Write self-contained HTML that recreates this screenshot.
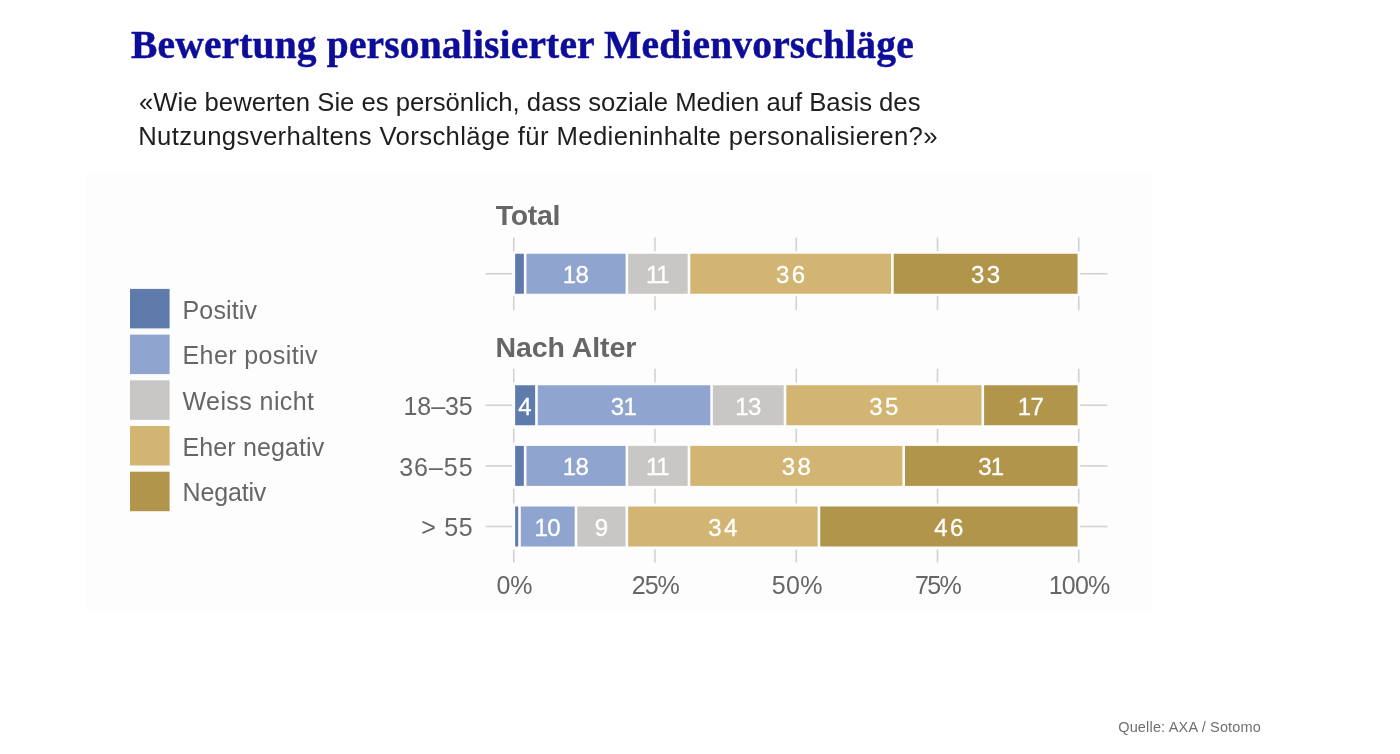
<!DOCTYPE html>
<html lang="de"><head><meta charset="utf-8"><title>Bewertung personalisierter Medienvorschläge</title>
<style>
html,body{margin:0;padding:0;background:#fff;}
body{width:1400px;height:754px;position:relative;overflow:hidden;font-family:"Liberation Sans",sans-serif;}
svg{position:absolute;left:0;top:0;will-change:transform;}
svg text{font-family:"Liberation Sans",sans-serif;}
</style></head><body>
<svg width="1400" height="754" viewBox="0 0 1400 754">
<rect x="86" y="173" width="1067" height="438" fill="#fdfdfd"/>
<line x1="513.75" x2="513.75" y1="237.5" y2="251.25" stroke="#d2d2d2" stroke-width="1.6"/>
<line x1="513.75" x2="513.75" y1="296.25" y2="310" stroke="#d2d2d2" stroke-width="1.6"/>
<line x1="513.75" x2="513.75" y1="368.75" y2="382.5" stroke="#d2d2d2" stroke-width="1.6"/>
<line x1="513.75" x2="513.75" y1="428.75" y2="442.5" stroke="#d2d2d2" stroke-width="1.6"/>
<line x1="513.75" x2="513.75" y1="488.75" y2="503.5" stroke="#d2d2d2" stroke-width="1.6"/>
<line x1="513.75" x2="513.75" y1="549.5" y2="562.5" stroke="#d2d2d2" stroke-width="1.6"/>
<line x1="655.00" x2="655.00" y1="237.5" y2="251.25" stroke="#d2d2d2" stroke-width="1.6"/>
<line x1="655.00" x2="655.00" y1="296.25" y2="310" stroke="#d2d2d2" stroke-width="1.6"/>
<line x1="655.00" x2="655.00" y1="368.75" y2="382.5" stroke="#d2d2d2" stroke-width="1.6"/>
<line x1="655.00" x2="655.00" y1="428.75" y2="442.5" stroke="#d2d2d2" stroke-width="1.6"/>
<line x1="655.00" x2="655.00" y1="488.75" y2="503.5" stroke="#d2d2d2" stroke-width="1.6"/>
<line x1="655.00" x2="655.00" y1="549.5" y2="562.5" stroke="#d2d2d2" stroke-width="1.6"/>
<line x1="796.25" x2="796.25" y1="237.5" y2="251.25" stroke="#d2d2d2" stroke-width="1.6"/>
<line x1="796.25" x2="796.25" y1="296.25" y2="310" stroke="#d2d2d2" stroke-width="1.6"/>
<line x1="796.25" x2="796.25" y1="368.75" y2="382.5" stroke="#d2d2d2" stroke-width="1.6"/>
<line x1="796.25" x2="796.25" y1="428.75" y2="442.5" stroke="#d2d2d2" stroke-width="1.6"/>
<line x1="796.25" x2="796.25" y1="488.75" y2="503.5" stroke="#d2d2d2" stroke-width="1.6"/>
<line x1="796.25" x2="796.25" y1="549.5" y2="562.5" stroke="#d2d2d2" stroke-width="1.6"/>
<line x1="937.50" x2="937.50" y1="237.5" y2="251.25" stroke="#d2d2d2" stroke-width="1.6"/>
<line x1="937.50" x2="937.50" y1="296.25" y2="310" stroke="#d2d2d2" stroke-width="1.6"/>
<line x1="937.50" x2="937.50" y1="368.75" y2="382.5" stroke="#d2d2d2" stroke-width="1.6"/>
<line x1="937.50" x2="937.50" y1="428.75" y2="442.5" stroke="#d2d2d2" stroke-width="1.6"/>
<line x1="937.50" x2="937.50" y1="488.75" y2="503.5" stroke="#d2d2d2" stroke-width="1.6"/>
<line x1="937.50" x2="937.50" y1="549.5" y2="562.5" stroke="#d2d2d2" stroke-width="1.6"/>
<line x1="1078.75" x2="1078.75" y1="237.5" y2="251.25" stroke="#d2d2d2" stroke-width="1.6"/>
<line x1="1078.75" x2="1078.75" y1="296.25" y2="310" stroke="#d2d2d2" stroke-width="1.6"/>
<line x1="1078.75" x2="1078.75" y1="368.75" y2="382.5" stroke="#d2d2d2" stroke-width="1.6"/>
<line x1="1078.75" x2="1078.75" y1="428.75" y2="442.5" stroke="#d2d2d2" stroke-width="1.6"/>
<line x1="1078.75" x2="1078.75" y1="488.75" y2="503.5" stroke="#d2d2d2" stroke-width="1.6"/>
<line x1="1078.75" x2="1078.75" y1="549.5" y2="562.5" stroke="#d2d2d2" stroke-width="1.6"/>
<line x1="485.6" x2="512.2" y1="273.75" y2="273.75" stroke="#d2d2d2" stroke-width="1.6"/>
<line x1="1080.2" x2="1107.3" y1="273.75" y2="273.75" stroke="#d2d2d2" stroke-width="1.6"/>
<rect x="515.15" y="253.75" width="8.70" height="40" fill="#5f7bab"/>
<rect x="526.45" y="253.75" width="99.10" height="40" fill="#8fa4cf"/>
<text x="575.60" y="283.05" text-anchor="middle" fill="#fff" stroke="#fff" stroke-width="0.3" font-size="24" letter-spacing="-0.6">18</text>
<rect x="628.15" y="253.75" width="59.55" height="40" fill="#c9c7c5"/>
<text x="657.23" y="283.05" text-anchor="middle" fill="#fff" stroke="#fff" stroke-width="0.3" font-size="24" letter-spacing="-1.2">11</text>
<rect x="690.30" y="253.75" width="200.80" height="40" fill="#d2b572"/>
<text x="791.80" y="283.05" text-anchor="middle" fill="#fff" stroke="#fff" stroke-width="0.3" font-size="24" letter-spacing="2.4">36</text>
<rect x="893.70" y="253.75" width="183.85" height="40" fill="#b1954b"/>
<text x="986.73" y="283.05" text-anchor="middle" fill="#fff" stroke="#fff" stroke-width="0.3" font-size="24" letter-spacing="2.4">33</text>
<line x1="485.6" x2="512.2" y1="405.25" y2="405.25" stroke="#d2d2d2" stroke-width="1.6"/>
<line x1="1080.2" x2="1107.3" y1="405.25" y2="405.25" stroke="#d2d2d2" stroke-width="1.6"/>
<rect x="515.15" y="385.25" width="20.00" height="40" fill="#5f7bab"/>
<text x="525.05" y="414.55" text-anchor="middle" fill="#fff" stroke="#fff" stroke-width="0.3" font-size="24" letter-spacing="0">4</text>
<rect x="537.75" y="385.25" width="172.55" height="40" fill="#8fa4cf"/>
<text x="623.62" y="414.55" text-anchor="middle" fill="#fff" stroke="#fff" stroke-width="0.3" font-size="24" letter-spacing="-0.6">31</text>
<rect x="712.90" y="385.25" width="70.85" height="40" fill="#c9c7c5"/>
<text x="747.93" y="414.55" text-anchor="middle" fill="#fff" stroke="#fff" stroke-width="0.3" font-size="24" letter-spacing="-0.6">13</text>
<rect x="786.35" y="385.25" width="195.15" height="40" fill="#d2b572"/>
<text x="885.03" y="414.55" text-anchor="middle" fill="#fff" stroke="#fff" stroke-width="0.3" font-size="24" letter-spacing="2.4">35</text>
<rect x="984.10" y="385.25" width="93.45" height="40" fill="#b1954b"/>
<text x="1030.42" y="414.55" text-anchor="middle" fill="#fff" stroke="#fff" stroke-width="0.3" font-size="24" letter-spacing="-0.6">17</text>
<text x="472.60" y="415.15" text-anchor="end" fill="#666666" font-size="25" letter-spacing="-0.1">18–35</text>
<line x1="485.6" x2="512.2" y1="465.9" y2="465.9" stroke="#d2d2d2" stroke-width="1.6"/>
<line x1="1080.2" x2="1107.3" y1="465.9" y2="465.9" stroke="#d2d2d2" stroke-width="1.6"/>
<rect x="515.15" y="445.90" width="8.70" height="40" fill="#5f7bab"/>
<rect x="526.45" y="445.90" width="99.10" height="40" fill="#8fa4cf"/>
<text x="575.60" y="475.20" text-anchor="middle" fill="#fff" stroke="#fff" stroke-width="0.3" font-size="24" letter-spacing="-0.6">18</text>
<rect x="628.15" y="445.90" width="59.55" height="40" fill="#c9c7c5"/>
<text x="657.23" y="475.20" text-anchor="middle" fill="#fff" stroke="#fff" stroke-width="0.3" font-size="24" letter-spacing="-1.2">11</text>
<rect x="690.30" y="445.90" width="212.10" height="40" fill="#d2b572"/>
<text x="797.45" y="475.20" text-anchor="middle" fill="#fff" stroke="#fff" stroke-width="0.3" font-size="24" letter-spacing="2.4">38</text>
<rect x="905.00" y="445.90" width="172.55" height="40" fill="#b1954b"/>
<text x="990.88" y="475.20" text-anchor="middle" fill="#fff" stroke="#fff" stroke-width="0.3" font-size="24" letter-spacing="-0.6">31</text>
<text x="473.70" y="475.80" text-anchor="end" fill="#666666" font-size="25" letter-spacing="1.0">36–55</text>
<line x1="485.6" x2="512.2" y1="526.5" y2="526.5" stroke="#d2d2d2" stroke-width="1.6"/>
<line x1="1080.2" x2="1107.3" y1="526.5" y2="526.5" stroke="#d2d2d2" stroke-width="1.6"/>
<rect x="515.15" y="506.50" width="3.05" height="40" fill="#5f7bab"/>
<rect x="520.80" y="506.50" width="53.90" height="40" fill="#8fa4cf"/>
<text x="547.35" y="535.80" text-anchor="middle" fill="#fff" stroke="#fff" stroke-width="0.3" font-size="24" letter-spacing="-0.6">10</text>
<rect x="577.30" y="506.50" width="48.25" height="40" fill="#c9c7c5"/>
<text x="601.33" y="535.80" text-anchor="middle" fill="#fff" stroke="#fff" stroke-width="0.3" font-size="24" letter-spacing="0">9</text>
<rect x="628.15" y="506.50" width="189.50" height="40" fill="#d2b572"/>
<text x="724.00" y="535.80" text-anchor="middle" fill="#fff" stroke="#fff" stroke-width="0.3" font-size="24" letter-spacing="2.4">34</text>
<rect x="820.25" y="506.50" width="257.30" height="40" fill="#b1954b"/>
<text x="950.00" y="535.80" text-anchor="middle" fill="#fff" stroke="#fff" stroke-width="0.3" font-size="24" letter-spacing="2.4">46</text>
<text x="473.40" y="536.40" text-anchor="end" fill="#666666" font-size="25" letter-spacing="0.7">> 55</text>
<text x="514.55" y="594" text-anchor="middle" fill="#666666" font-size="25" letter-spacing="0">0%</text>
<text x="655.30" y="594" text-anchor="middle" fill="#666666" font-size="25" letter-spacing="-1.0">25%</text>
<text x="797.25" y="594" text-anchor="middle" fill="#666666" font-size="25" letter-spacing="0.4">50%</text>
<text x="937.50" y="594" text-anchor="middle" fill="#666666" font-size="25" letter-spacing="-1.6">75%</text>
<text x="1079.15" y="594" text-anchor="middle" fill="#666666" font-size="25" letter-spacing="-0.8">100%</text>
<text x="495.8" y="225.4" fill="#666666" font-size="28.5" font-weight="bold" letter-spacing="-0.35">Total</text>
<text x="495.4" y="356.8" fill="#666666" font-size="28.5" font-weight="bold" letter-spacing="-0.05">Nach Alter</text>
<rect x="130" y="288.90" width="39.6" height="39.5" fill="#5f7bab"/>
<text x="182.5" y="318.50" fill="#666666" font-size="25" letter-spacing="0.15">Positiv</text>
<rect x="130" y="334.60" width="39.6" height="39.5" fill="#8fa4cf"/>
<text x="182.5" y="364.20" fill="#666666" font-size="25" letter-spacing="0.4">Eher positiv</text>
<rect x="130" y="380.30" width="39.6" height="39.5" fill="#c9c7c5"/>
<text x="182.5" y="409.90" fill="#666666" font-size="25" letter-spacing="0.42">Weiss nicht</text>
<rect x="130" y="426.00" width="39.6" height="39.5" fill="#d2b572"/>
<text x="182.5" y="455.60" fill="#666666" font-size="25" letter-spacing="0.13">Eher negativ</text>
<rect x="130" y="471.70" width="39.6" height="39.5" fill="#b1954b"/>
<text x="182.5" y="501.30" fill="#666666" font-size="25" letter-spacing="-0.15">Negativ</text>
<text x="131" y="57.6" font-family="Liberation Serif" font-weight="bold" font-size="39.5" fill="#0d0d9a" stroke="#0d0d9a" stroke-width="0.45" letter-spacing="0.16" style="font-family:'Liberation Serif',serif">Bewertung personalisierter Medienvorschläge</text>
<text x="139.0" y="111.4" font-size="25.7" fill="#1e1e1e" letter-spacing="-0.015">«Wie bewerten Sie es persönlich, dass soziale Medien auf Basis des</text>
<text x="138.2" y="145.2" font-size="25.7" fill="#1e1e1e" letter-spacing="0.375">Nutzungsverhaltens Vorschläge für Medieninhalte personalisieren?»</text>
<text x="1118.2" y="731.9" font-size="14.5" fill="#6f6f6f" letter-spacing="0.17">Quelle: AXA / Sotomo</text>
</svg>
</body></html>
